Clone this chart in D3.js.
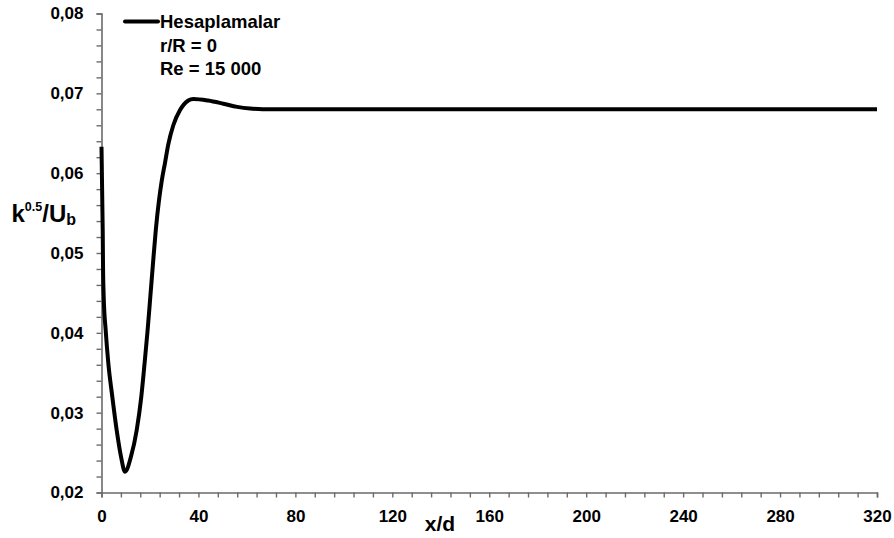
<!DOCTYPE html>
<html>
<head>
<meta charset="utf-8">
<script src="https://cdn.jsdelivr.net/npm/d3@7"></script>
<style>
    body { margin: 0; background: #fff; }
    svg text { font-family: "Liberation Sans", Arial, sans-serif; font-weight: bold; }
</style>
</head>
<body>
<svg id="chart" width="894" height="538"></svg>
<script>
'use strict';

// values
const xd = [0, 0.5, 0.62, 0.91, 1.73, 2.81, 4.46, 6.27, 8.05, 9.7,
    12.17, 14.52, 16.42, 17.78, 19.02, 20.14, 21.25, 22.41, 23.69, 24.84, 26.21, 27.56,
    29.63, 32.41, 35.82, 37.88, 44, 50.3, 56, 61.3, 70, 82, 120, 200, 280, 320];
const kU = [0.0633, 0.0529, 0.0487, 0.0445, 0.0403, 0.0362, 0.0320, 0.0278, 0.0245, 0.0226,
    0.0245, 0.0278, 0.0320, 0.0362, 0.0403, 0.0445, 0.0487, 0.0529, 0.0565, 0.0590, 0.0613, 0.0636,
    0.0660, 0.0679, 0.0691, 0.0693, 0.0691, 0.0687, 0.0683, 0.0681, 0.0680, 0.0680, 0.0680, 0.0680, 0.0680, 0.0680];

const xTicks = [0, 40, 80, 120, 160, 200, 240, 280, 320];
const yTicks = [0.02, 0.03, 0.04, 0.05, 0.06, 0.07, 0.08];
const legendLines = ['Hesaplamalar', 'r/R = 0', 'Re = 15 000'];

const plot = { left: 101.5, right: 877, top: 13.5, bottom: 492.5 };
const axisColor = '#6b6b6b';

const svg = d3.select('#chart');

const x = d3.scaleLinear().domain([0, 320]).range([plot.left, plot.right]);
const y = d3.scaleLinear().domain([0.02, 0.08]).range([plot.bottom, plot.top]);

const fmt = v => d3.format('.2f')(v).replace('.', ',');

function drawAxes() {
    // minor ticks every 8 / 0.002, labels only on the major ones
    const xAxis = d3.axisBottom(x)
        .tickValues(d3.range(0, 321, 8))
        .tickSize(5)
        .tickFormat(d => xTicks.includes(d) ? d : '');
    const gx = svg.append('g')
        .attr('transform', `translate(0,${plot.bottom})`)
        .call(xAxis);

    const yAxis = d3.axisLeft(y)
        .tickValues(d3.range(0, 31).map(i => 0.02 + i * 0.002))
        .tickSize(5)
        .tickFormat(d => yTicks.some(t => Math.abs(t - d) < 1e-9) ? fmt(d) : '');
    const gy = svg.append('g')
        .attr('transform', `translate(${plot.left},0)`)
        .call(yAxis);

    [gx, gy].forEach(g => {
        g.select('.domain').attr('stroke', axisColor).attr('stroke-width', 1.6);
        g.selectAll('.tick line').attr('stroke', axisColor).attr('stroke-width', 1.4);
        g.selectAll('.tick text')
            .attr('fill', '#000')
            .style('font-size', '17px');
    });
    gx.selectAll('.tick text').attr('y', 17).attr('dy', '0.71em');
    gy.selectAll('.tick text').attr('x', -18);

    // axis titles
    svg.append('text')
        .attr('x', 440)
        .attr('y', 531)
        .attr('text-anchor', 'middle')
        .style('font-size', '21px')
        .text('x/d');

    const yt = svg.append('text')
        .attr('x', 11.5)
        .attr('y', 221.5)
        .style('font-size', '24px');
    yt.append('tspan').text('k');
    yt.append('tspan').attr('dy', -10.5).style('font-size', '12.5px').text('0.5');
    yt.append('tspan').attr('dy', 10.5).text('/U');
    yt.append('tspan').attr('dy', 3.5).style('font-size', '16px').text('b');
}

function drawCurve() {
    const line = d3.line()
        .x((d, i) => x(xd[i]))
        .y(d => y(d))
        .curve(d3.curveMonotoneX);

    svg.append('path')
        .datum(kU)
        .attr('fill', 'none')
        .attr('stroke', '#000')
        .attr('stroke-width', 4)
        .attr('stroke-linejoin', 'round')
        .attr('d', line);
}

function drawLegend() {
    svg.append('line')
        .attr('x1', 125).attr('x2', 158)
        .attr('y1', 21.5).attr('y2', 21.5)
        .attr('stroke', '#000')
        .attr('stroke-width', 4)
        .attr('stroke-linecap', 'round');

    svg.selectAll('.legend-text')
        .data(legendLines)
        .enter()
        .append('text')
        .attr('class', 'legend-text')
        .attr('x', 160)
        .attr('y', (d, i) => 28.3 + i * 23.4)
        .style('font-size', '18.5px')
        .text(d => d);
}

drawAxes();
drawCurve();
drawLegend();
</script>
</body>
</html>
